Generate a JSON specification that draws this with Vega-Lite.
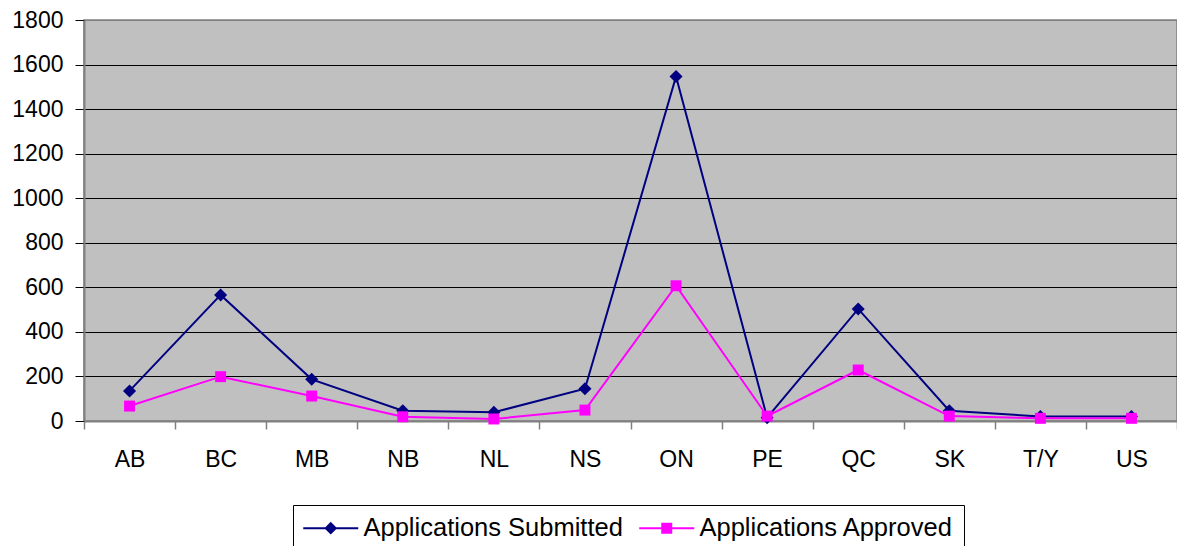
{
  "$schema": "https://vega.github.io/schema/vega-lite/v6.json",
  "width": 1093,
  "height": 401,
  "autosize": {"type": "none"},
  "padding": {"left": 84, "top": 20, "right": 0, "bottom": 125},
  "background": "white",
  "config": {
    "view": {"fill": "#C0C0C0", "stroke": "#808080", "strokeWidth": 1.5},
    "font": "Liberation Sans"
  },
  "data": {
    "values": [
      {"province": "AB", "series": "Applications Submitted", "count": 135},
      {"province": "BC", "series": "Applications Submitted", "count": 566},
      {"province": "MB", "series": "Applications Submitted", "count": 187},
      {"province": "NB", "series": "Applications Submitted", "count": 46},
      {"province": "NL", "series": "Applications Submitted", "count": 39},
      {"province": "NS", "series": "Applications Submitted", "count": 145},
      {"province": "ON", "series": "Applications Submitted", "count": 1546},
      {"province": "PE", "series": "Applications Submitted", "count": 15},
      {"province": "QC", "series": "Applications Submitted", "count": 503},
      {"province": "SK", "series": "Applications Submitted", "count": 46},
      {"province": "T/Y", "series": "Applications Submitted", "count": 20},
      {"province": "US", "series": "Applications Submitted", "count": 20},
      {"province": "AB", "series": "Applications Approved", "count": 67},
      {"province": "BC", "series": "Applications Approved", "count": 199},
      {"province": "MB", "series": "Applications Approved", "count": 112},
      {"province": "NB", "series": "Applications Approved", "count": 19},
      {"province": "NL", "series": "Applications Approved", "count": 9},
      {"province": "NS", "series": "Applications Approved", "count": 49},
      {"province": "ON", "series": "Applications Approved", "count": 607},
      {"province": "PE", "series": "Applications Approved", "count": 22},
      {"province": "QC", "series": "Applications Approved", "count": 229},
      {"province": "SK", "series": "Applications Approved", "count": 22},
      {"province": "T/Y", "series": "Applications Approved", "count": 12},
      {"province": "US", "series": "Applications Approved", "count": 12}
    ]
  },
  "encoding": {
    "x": {
      "field": "province",
      "type": "nominal",
      "sort": ["AB", "BC", "MB", "NB", "NL", "NS", "ON", "PE", "QC", "SK", "T/Y", "US"],
      "bandPosition": 0.5,
      "scale": {"type": "band", "paddingInner": 0, "paddingOuter": 0},
      "axis": {
        "title": null,
        "labelAngle": 0,
        "labelFontSize": 23,
        "labelColor": "black",
        "labelPadding": 19,
        "tickSize": 8,
        "tickColor": "#808080",
        "tickWidth": 1.5,
        "domainColor": "#808080",
        "domainWidth": 2,
        "tickBand": "extent",
        "grid": false
      }
    },
    "y": {
      "field": "count",
      "type": "quantitative",
      "scale": {"domain": [0, 1800], "nice": false},
      "axis": {
        "title": null,
        "format": "d",
        "values": [0, 200, 400, 600, 800, 1000, 1200, 1400, 1600, 1800],
        "labelFontSize": 23,
        "labelColor": "black",
        "labelPadding": 12,
        "tickSize": 9,
        "tickColor": "black",
        "domainColor": "#808080",
        "domainWidth": 2,
        "grid": true,
        "gridColor": {"condition": {"test": "datum.value === 0 || datum.value === 1800", "value": "#808080"}, "value": "black"},
        "gridWidth": 1.2,
        "gridOpacity": 1
      }
    },
    "color": {
      "field": "series",
      "type": "nominal",
      "scale": {"domain": ["Applications Submitted", "Applications Approved"], "range": ["#000080", "#FF00FF"]},
      "legend": {
        "orient": "none",
        "legendX": 209,
        "legendY": 485,
        "direction": "horizontal",
        "title": null,
        "strokeColor": "black",
        "fillColor": "white",
        "padding": 10,
        "labelFontSize": 25.5,
        "labelColor": "black",
        "labelLimit": 500,
        "symbolOffset": 15,
        "labelOffset": 20,
        "columnPadding": 12,
        "symbolSize": 100,
        "symbolStrokeWidth": 2,
        "encode": {
          "symbols": {
            "update": {
              "shape": {"signal": "datum.value === 'Applications Submitted' ? 'M-5.5,0H5.5M0,-1L1,0L0,1L-1,0Z' : 'M-5.5,0H5.5M-0.9,-0.9H0.9V0.9H-0.9Z'"},
              "fill": {"scale": "color", "field": "value"},
              "stroke": {"scale": "color", "field": "value"},
              "strokeWidth": {"value": 2},
              "size": {"value": 100},
              "opacity": {"value": 1}
            }
          }
        }
      }
    }
  },
  "layer": [
    {"mark": {"type": "line", "strokeWidth": 2}},
    {
      "transform": [{"filter": "datum.series === 'Applications Submitted'"}],
      "mark": {"type": "point", "filled": true, "opacity": 1, "shape": "diamond", "size": 170}
    },
    {
      "transform": [{"filter": "datum.series === 'Applications Approved'"}],
      "mark": {"type": "point", "filled": true, "opacity": 1, "shape": "square", "size": 120}
    }
  ]
}
